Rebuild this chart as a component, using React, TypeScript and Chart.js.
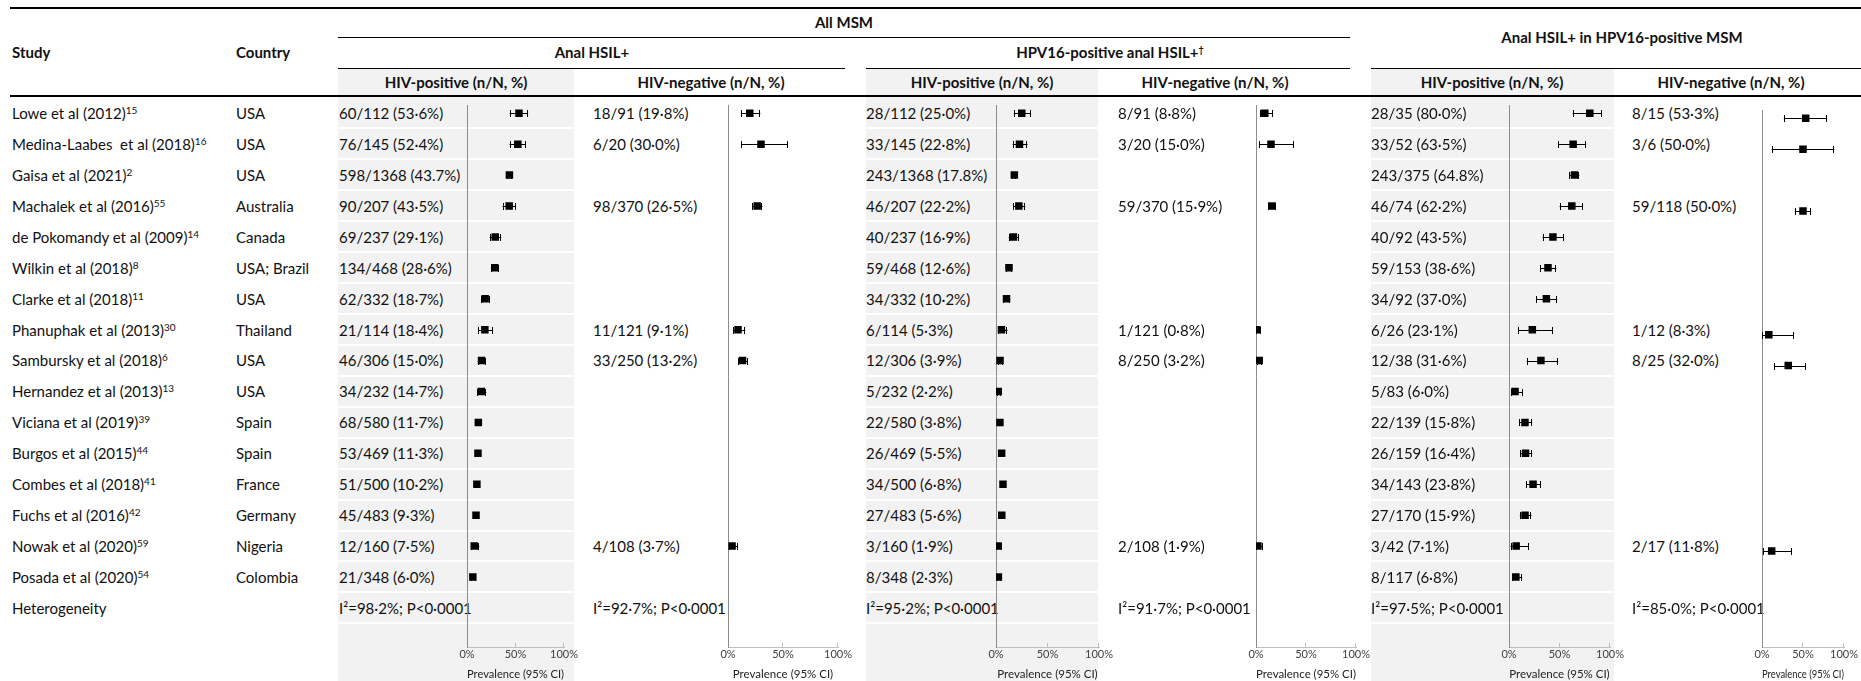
import React, { useEffect, useRef } from "react";
import { Chart, registerables } from "chart.js";

Chart.register(...registerables);

// ---------------- data ----------------
const studies = [
  "Lowe et al (2012)", "Medina-Laabes  et al (2018)", "Gaisa et al (2021)", "Machalek et al (2016)",
  "de Pokomandy et al (2009)", "Wilkin et al (2018)", "Clarke et al (2018)", "Phanuphak et al (2013)",
  "Sambursky et al (2018)", "Hernandez et al (2013)", "Viciana et al (2019)", "Burgos et al (2015)",
  "Combes et al (2018)", "Fuchs et al (2016)", "Nowak et al (2020)", "Posada et al (2020)",
];
const studyRefs = ["15", "16", "2", "55", "14", "8", "11", "30", "6", "13", "39", "44", "41", "42", "59", "54"];
const countries = [
  "USA", "USA", "USA", "Australia", "Canada", "USA; Brazil", "USA", "Thailand",
  "USA", "USA", "Spain", "Spain", "France", "Germany", "Nigeria", "Colombia",
];

// Anal HSIL+, HIV-positive
const analPosText = ["60/112 (53·6%)", "76/145 (52·4%)", "598/1368 (43.7%)", "90/207 (43·5%)", "69/237 (29·1%)", "134/468 (28·6%)", "62/332 (18·7%)", "21/114 (18·4%)", "46/306 (15·0%)", "34/232 (14·7%)", "68/580 (11·7%)", "53/469 (11·3%)", "51/500 (10·2%)", "45/483 (9·3%)", "12/160 (7·5%)", "21/348 (6·0%)"];
const analPosPct = [53.6, 52.4, 43.7, 43.5, 29.1, 28.6, 18.7, 18.4, 15.0, 14.7, 11.7, 11.3, 10.2, 9.3, 7.5, 6.0];
const analPosLo = [44.0, 43.9, 41.1, 36.6, 23.4, 24.6, 14.7, 11.8, 11.2, 10.4, 9.2, 8.6, 7.7, 6.9, 3.9, 3.8];
const analPosHi = [63.0, 60.8, 46.4, 50.5, 35.3, 32.9, 23.3, 26.7, 19.5, 19.9, 14.6, 14.5, 13.2, 12.3, 12.7, 9.0];

// Anal HSIL+, HIV-negative
const analNegText = ["18/91 (19·8%)", "6/20 (30·0%)", null, "98/370 (26·5%)", null, null, null, "11/121 (9·1%)", "33/250 (13·2%)", null, null, null, null, null, "4/108 (3·7%)", null];
const analNegPct = [19.8, 30.0, null, 26.5, null, null, null, 9.1, 13.2, null, null, null, null, null, 3.7, null];
const analNegLo = [12.2, 11.9, null, 22.1, null, null, null, 4.6, 9.3, null, null, null, null, null, 1.0, null];
const analNegHi = [29.4, 54.3, null, 31.3, null, null, null, 15.7, 18.0, null, null, null, null, null, 9.2, null];

// HPV16-positive anal HSIL+, HIV-positive
const hpvPosText = ["28/112 (25·0%)", "33/145 (22·8%)", "243/1368 (17.8%)", "46/207 (22·2%)", "40/237 (16·9%)", "59/468 (12·6%)", "34/332 (10·2%)", "6/114 (5·3%)", "12/306 (3·9%)", "5/232 (2·2%)", "22/580 (3·8%)", "26/469 (5·5%)", "34/500 (6·8%)", "27/483 (5·6%)", "3/160 (1·9%)", "8/348 (2·3%)"];
const hpvPosPct = [25.0, 22.8, 17.8, 22.2, 16.9, 12.6, 10.2, 5.3, 3.9, 2.2, 3.8, 5.5, 6.8, 5.6, 1.9, 2.3];
const hpvPosLo = [17.3, 16.2, 15.8, 16.7, 12.3, 9.7, 7.2, 2.0, 2.0, 0.7, 2.4, 3.7, 4.8, 3.7, 0.4, 1.0];
const hpvPosHi = [34.0, 30.5, 19.9, 28.5, 22.2, 15.9, 14.0, 11.1, 6.7, 5.0, 5.7, 8.0, 9.4, 8.0, 5.4, 4.5];

// HPV16-positive anal HSIL+, HIV-negative
const hpvNegText = ["8/91 (8·8%)", "3/20 (15·0%)", null, "59/370 (15·9%)", null, null, null, "1/121 (0·8%)", "8/250 (3·2%)", null, null, null, null, null, "2/108 (1·9%)", null];
const hpvNegPct = [8.8, 15.0, null, 15.9, null, null, null, 0.8, 3.2, null, null, null, null, null, 1.9, null];
const hpvNegLo = [3.9, 3.2, null, 12.4, null, null, null, 0.0, 1.4, null, null, null, null, null, 0.2, null];
const hpvNegHi = [16.6, 37.9, null, 20.0, null, null, null, 4.5, 6.2, null, null, null, null, null, 6.5, null];

// Anal HSIL+ in HPV16-positive MSM, HIV-positive
const inHpvPosText = ["28/35 (80·0%)", "33/52 (63·5%)", "243/375 (64.8%)", "46/74 (62·2%)", "40/92 (43·5%)", "59/153 (38·6%)", "34/92 (37·0%)", "6/26 (23·1%)", "12/38 (31·6%)", "5/83 (6·0%)", "22/139 (15·8%)", "26/159 (16·4%)", "34/143 (23·8%)", "27/170 (15·9%)", "3/42 (7·1%)", "8/117 (6·8%)"];
const inHpvPosPct = [80.0, 63.5, 64.8, 62.2, 43.5, 38.6, 37.0, 23.1, 31.6, 6.0, 15.8, 16.4, 23.8, 15.9, 7.1, 6.8];
const inHpvPosLo = [63.1, 49.0, 59.7, 50.1, 33.2, 30.8, 27.1, 9.0, 17.5, 2.0, 10.2, 11.0, 17.1, 10.7, 1.5, 3.0];
const inHpvPosHi = [91.6, 76.4, 69.6, 73.2, 54.2, 46.8, 47.7, 43.6, 48.7, 13.5, 23.0, 23.0, 31.6, 22.2, 19.5, 13.0];

// Anal HSIL+ in HPV16-positive MSM, HIV-negative
const inHpvNegText = ["8/15 (53·3%)", "3/6 (50·0%)", null, "59/118 (50·0%)", null, null, null, "1/12 (8·3%)", "8/25 (32·0%)", null, null, null, null, null, "2/17 (11·8%)", null];
const inHpvNegPct = [53.3, 50.0, null, 50.0, null, null, null, 8.3, 32.0, null, null, null, null, null, 11.8, null];
const inHpvNegLo = [26.6, 11.8, null, 40.7, null, null, null, 0.2, 14.9, null, null, null, null, null, 1.5, null];
const inHpvNegHi = [78.7, 88.2, null, 59.3, null, null, null, 38.5, 53.5, null, null, null, null, null, 36.4, null];

const heterogeneity = [
  "I²=98·2%; P<0·0001", "I²=92·7%; P<0·0001", "I²=95·2%; P<0·0001",
  "I²=91·7%; P<0·0001", "I²=97·5%; P<0·0001", "I²=85·0%; P<0·0001",
];
const tickValues = [0, 50, 100];
const tickLabels = ["0%", "50%", "100%"];
const xAxisTitle = "Prevalence (95% CI)";

// ---------------- layout ----------------
const W = 1861;
const H = 681;
const ROW0 = 113;
const ROWH = 30.93;
const AXIS_Y = 647;
const CANVAS_TOP = 100;
const AREA_PAD_TOP = 5;
const PADX = 22;
const FONT = "Lato, 'Open Sans', sans-serif";
const rowY = (i: number) => ROW0 + i * ROWH;

const plotDefs = [
  { text: analPosText, pct: analPosPct, lo: analPosLo, hi: analPosHi, textX: 339, axisL: 467, axisR: 564, shift: 0 },
  { text: analNegText, pct: analNegPct, lo: analNegLo, hi: analNegHi, textX: 593, axisL: 728, axisR: 838, shift: 0 },
  { text: hpvPosText, pct: hpvPosPct, lo: hpvPosLo, hi: hpvPosHi, textX: 866, axisL: 996, axisR: 1099, shift: 0 },
  { text: hpvNegText, pct: hpvNegPct, lo: hpvNegLo, hi: hpvNegHi, textX: 1118, axisL: 1256, axisR: 1356, shift: 0 },
  { text: inHpvPosText, pct: inHpvPosPct, lo: inHpvPosLo, hi: inHpvPosHi, textX: 1371, axisL: 1509, axisR: 1610, shift: 0 },
  { text: inHpvNegText, pct: inHpvNegPct, lo: inHpvNegLo, hi: inHpvNegHi, textX: 1632, axisL: 1762, axisR: 1844, shift: 5 },
];

const shadedCols = [
  [338, 574],
  [866, 1098],
  [1371, 1614],
];

const errorBarPlugin = {
  id: "errorBars",
  beforeDatasetsDraw(chart: any) {
    const { ctx, scales } = chart;
    const x = scales.x;
    const y = scales.y;
    const data = chart.data.datasets[0].data as any[];
    ctx.save();
    ctx.strokeStyle = "#000";
    ctx.lineWidth = 1;
    data.forEach((p) => {
      const py = Math.round(y.getPixelForValue(p.y)) + 0.5;
      const xl = x.getPixelForValue(p.lo);
      const xh = x.getPixelForValue(p.hi);
      ctx.beginPath();
      ctx.moveTo(xl, py);
      ctx.lineTo(xh, py);
      ctx.moveTo(Math.round(xl) + 0.5, py - 3.5);
      ctx.lineTo(Math.round(xl) + 0.5, py + 3.5);
      ctx.moveTo(Math.round(xh) - 0.5, py - 3.5);
      ctx.lineTo(Math.round(xh) - 0.5, py + 3.5);
      ctx.stroke();
    });
    ctx.restore();
  },
  afterDraw(chart: any) {
    const { ctx, scales } = chart;
    const x = scales.x;
    const bottom = chart.chartArea.bottom;
    ctx.save();
    ctx.strokeStyle = "#bfbfbf";
    ctx.lineWidth = 1;
    tickValues.forEach((v) => {
      if (v === 0) return;
      const px = Math.round(x.getPixelForValue(v)) - 0.5;
      ctx.beginPath();
      ctx.moveTo(px, bottom);
      ctx.lineTo(px, bottom - 4);
      ctx.stroke();
    });
    ctx.restore();
  },
};

function Forest({ def }: { def: any }) {
  const ref = useRef<HTMLCanvasElement | null>(null);
  const top = CANVAS_TOP + def.shift;
  const height = H - top;
  const width = def.axisR - def.axisL + 2 * PADX;
  useEffect(() => {
    const pts: any[] = [];
    def.pct.forEach((v: number | null, i: number) => {
      if (v !== null) pts.push({ x: v, y: i, lo: def.lo[i], hi: def.hi[i] });
    });
    const areaTop = top + AREA_PAD_TOP;
    const yMin = -(ROW0 + def.shift - areaTop) / ROWH;
    const yMax = yMin + (AXIS_Y - areaTop) / ROWH;
    const chart = new Chart(ref.current as HTMLCanvasElement, {
      type: "scatter",
      data: {
        datasets: [
          {
            data: pts,
            pointStyle: "rect",
            pointRadius: 5.3,
            pointHoverRadius: 5.3,
            backgroundColor: "#000",
            borderColor: "#000",
            borderWidth: 0,
          } as any,
        ],
      },
      options: {
        animation: false,
        responsive: false,
        maintainAspectRatio: false,
        events: [],
        layout: { padding: { left: PADX, right: PADX, top: AREA_PAD_TOP, bottom: 0 } },
        plugins: { legend: { display: false }, tooltip: { enabled: false } },
        scales: {
          x: {
            type: "linear",
            min: 0,
            max: 100,
            afterFit: (s: any) => {
              s.height = H - AXIS_Y;
            },
            afterBuildTicks: (s: any) => {
              s.ticks = tickValues.map((v) => ({ value: v }));
            },
            ticks: {
              autoSkip: false,
              maxRotation: 0,
              padding: 1,
              color: "#404040",
              font: { family: FONT, size: 11 },
              callback: (v: any) => tickLabels[tickValues.indexOf(Number(v))] ?? "",
            },
            grid: { display: false, drawTicks: false },
            border: { display: true, color: "#bfbfbf", width: 1 },
            title: {
              display: true,
              text: xAxisTitle,
              color: "#222",
              font: { family: FONT, size: 11.5 },
              padding: { top: 2, bottom: 0 },
            },
          },
          y: {
            type: "linear",
            reverse: true,
            min: yMin,
            max: yMax,
            afterFit: (s: any) => {
              s.width = 0;
            },
            ticks: { display: false },
            grid: { display: false, drawTicks: false },
            border: { display: true, color: "#8c8c8c", width: 1 },
          },
        },
      } as any,
      plugins: [errorBarPlugin],
    });
    return () => chart.destroy();
  }, []);
  return (
    <canvas
      ref={ref}
      width={width}
      height={height}
      style={{ position: "absolute", left: def.axisL - PADX, top, width, height }}
    />
  );
}

function Line({ x1, x2, y, w = 1 }: { x1: number; x2: number; y: number; w?: number }) {
  return <div style={{ position: "absolute", left: x1, top: y - w / 2, width: x2 - x1, height: w, background: "#000" }} />;
}

function Txt({ x, y, children, bold, center, size = 15 }: any) {
  return (
    <div
      style={{
        position: "absolute",
        left: x,
        top: y - 11,
        height: 22,
        lineHeight: "22px",
        fontSize: size,
        fontWeight: bold ? 700 : 400,
        whiteSpace: "pre",
        transform: center ? "translateX(-50%)" : undefined,
      }}
    >
      {children}
    </div>
  );
}

const supStyle: React.CSSProperties = { fontSize: 10, lineHeight: 0, position: "relative", top: -5 };

export default function App() {
  const seps: number[] = [];
  for (let k = 0; k <= studies.length; k++) seps.push(ROW0 + (k + 0.5) * ROWH);
  const bands: [number, number][] = [];
  let start = 96.5;
  seps.forEach((s) => {
    bands.push([start, s - 1]);
    start = s + 1;
  });
  bands.push([start, H]);

  return (
    <div
      style={{
        position: "absolute",
        left: 0,
        top: 0,
        width: W,
        height: H,
        overflow: "hidden",
        background: "#fff",
        fontFamily: FONT,
        color: "#111",
      }}
    >
      {/* shaded columns */}
      {shadedCols.map(([a, b], ci) => (
        <React.Fragment key={"sc" + ci}>
          <div style={{ position: "absolute", left: a, top: 68.5, width: b - a, height: 27.5, background: "#f2f2f2" }} />
          {bands.map(([t, e], bi) => (
            <div key={bi} style={{ position: "absolute", left: a, top: t, width: b - a, height: e - t, background: "#f2f2f2" }} />
          ))}
        </React.Fragment>
      ))}

      {/* rules */}
      <Line x1={10} x2={W} y={8} w={1.5} />
      <Line x1={338} x2={1350} y={37} />
      <Line x1={338} x2={845} y={68} />
      <Line x1={866} x2={1350} y={68} />
      <Line x1={1371} x2={W} y={68} />
      <Line x1={10} x2={W} y={96} w={1.5} />

      {/* headers */}
      <Txt x={844} y={22} bold center>All MSM</Txt>
      <Txt x={1622} y={37} bold center>Anal HSIL+ in HPV16-positive MSM</Txt>
      <Txt x={12} y={52} bold>Study</Txt>
      <Txt x={236} y={52} bold>Country</Txt>
      <Txt x={592} y={52} bold center>Anal HSIL+</Txt>
      <Txt x={1110} y={52} bold center>
        HPV16-positive anal HSIL+<span style={{ ...supStyle, fontSize: 9 }}>†</span>
      </Txt>
      <Txt x={456} y={82} bold center>HIV-positive (n/N, %)</Txt>
      <Txt x={711} y={82} bold center>HIV-negative (n/N, %)</Txt>
      <Txt x={982} y={82} bold center>HIV-positive (n/N, %)</Txt>
      <Txt x={1215} y={82} bold center>HIV-negative (n/N, %)</Txt>
      <Txt x={1492} y={82} bold center>HIV-positive (n/N, %)</Txt>
      <Txt x={1731} y={82} bold center>HIV-negative (n/N, %)</Txt>

      {/* study rows */}
      {studies.map((s, i) => (
        <React.Fragment key={"r" + i}>
          <Txt x={12} y={rowY(i)}>
            {s}
            <span style={supStyle}>{studyRefs[i]}</span>
          </Txt>
          <Txt x={236} y={rowY(i)}>{countries[i]}</Txt>
        </React.Fragment>
      ))}
      <Txt x={12} y={rowY(studies.length)}>Heterogeneity</Txt>

      {plotDefs.map((d, pi) => (
        <React.Fragment key={"p" + pi}>
          {d.text.map((t, i) => (t ? <Txt key={i} x={d.textX} y={rowY(i)}>{t}</Txt> : null))}
          <Txt x={d.textX} y={rowY(studies.length)}>{heterogeneity[pi]}</Txt>
          <Forest def={d} />
        </React.Fragment>
      ))}
    </div>
  );
}
